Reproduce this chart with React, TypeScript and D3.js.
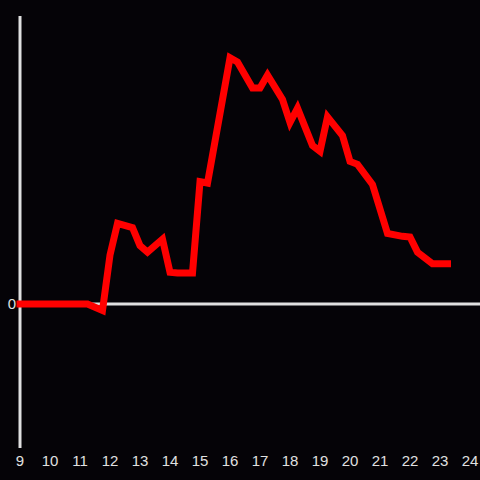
import React from "react";
import * as d3 from "d3";

const hours = [9, 11.25, 11.75, 12, 12.25, 12.75, 13, 13.25, 13.75, 14, 14.25, 14.75, 15, 15.25, 16, 16.25, 16.75, 17, 17.25, 17.75, 18, 18.25, 18.75, 19, 19.25, 19.75, 20, 20.25, 20.75, 21.25, 21.75, 22, 22.25, 22.75, 23.25];
const values = [0, 0, -0.045, 0.34, 0.56, 0.53, 0.405, 0.36, 0.45, 0.22, 0.215, 0.215, 0.85, 0.84, 1.71, 1.68, 1.5, 1.5, 1.59, 1.42, 1.26, 1.36, 1.1, 1.06, 1.3, 1.17, 0.99, 0.97, 0.83, 0.49, 0.47, 0.465, 0.36, 0.28, 0.28];
const xTicks = [9, 10, 11, 12, 13, 14, 15, 16, 17, 18, 19, 20, 21, 22, 23, 24];
const yTicks = [0];

export default function App() {
  const W = 480, H = 480;
  const x = d3.scaleLinear().domain([9, 24]).range([20, 470]);
  const y = d3.scaleLinear().domain([-1, 2]).range([448, 16]);
  const pts: [number, number][] = hours.map((h, i) => [h, values[i]]);
  const line = d3.line<[number, number]>().x(d => x(d[0])).y(d => y(d[1]));
  const axisColor = "#e0e0e0";
  const font = "Liberation Sans, Arial, sans-serif";
  return (
    <div style={{ position: "fixed", left: 0, top: 0 }}>
      <svg width={W} height={H} style={{ display: "block", background: "#050307" }}>
        <rect width={W} height={H} fill="#050307" />
        <line x1={x(9)} x2={x(9)} y1={y(2)} y2={y(-1)} stroke={axisColor} strokeWidth={3} />
        <line x1={x(9)} x2={W} y1={y(0)} y2={y(0)} stroke={axisColor} strokeWidth={3} />
        <path d={line(pts) || ""} fill="none" stroke="#ff0000" strokeWidth={7} strokeLinejoin="miter" strokeLinecap="square" />
        {yTicks.map(t => (
          <text key={t} x={16} y={y(t)} dy="0.36em" textAnchor="end" fill={axisColor} fontFamily={font} fontSize={15}>{t}</text>
        ))}
        {xTicks.map(t => (
          <text key={t} x={x(t)} y={466} textAnchor="middle" fill={axisColor} fontFamily={font} fontSize={15}>{t}</text>
        ))}
      </svg>
    </div>
  );
}
